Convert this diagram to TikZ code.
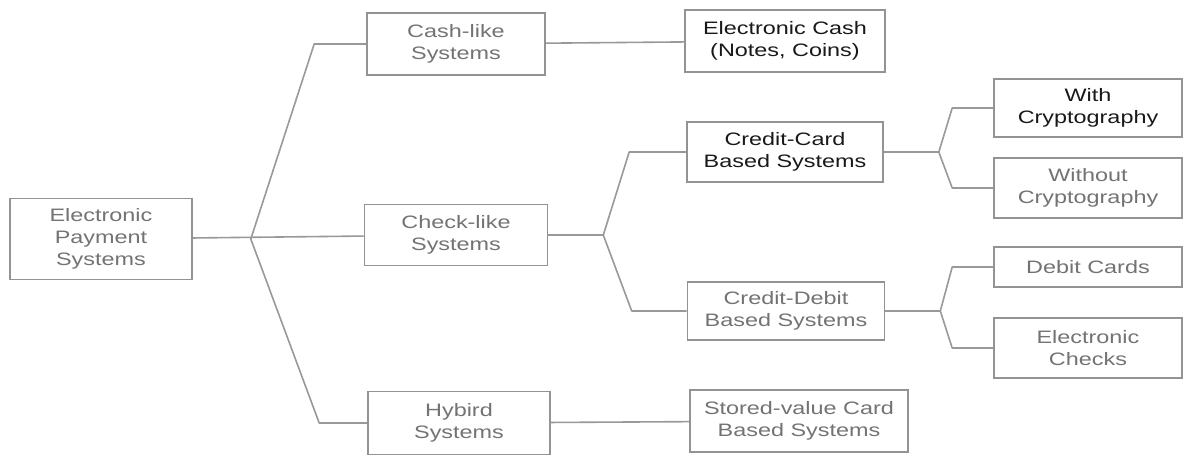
\documentclass[tikz,border=0pt]{standalone}
\usepackage{fontspec}
\setmainfont{Liberation Sans}[FakeStretch=1.3]
\usepackage{tikz}

\begin{document}
\begin{tikzpicture}[x=0.5pt, y=-0.5pt]
  \tikzset{background/.style={fill=white}}
  \tikzset{sysbox/.style={rectangle, draw=gray!85, line width=0.8pt, inner sep=0pt,
      align=center, text=gray!90!black, font=\fontsize{9}{11}\selectfont}}
  \tikzset{darkbox/.style={sysbox, text=black!90}}
  \tikzset{branch/.style={draw=gray!80, line width=0.8pt, line join=round}}

  \fill[background] (0,0) rectangle (1184,457);
  \useasboundingbox (0,0) rectangle (1184,457);

  \node[sysbox, minimum width=91pt, minimum height=40.5pt] (eps) at (101,239) {Electronic\\Payment\\Systems};

  \node[sysbox, minimum width=89pt, minimum height=31pt] (cash) at (456,44) {Cash-like\\Systems};
  \node[sysbox, minimum width=91.5pt, minimum height=30.5pt] (check) at (456,235) {Check-like\\Systems};
  \node[sysbox, minimum width=91pt, minimum height=31.5pt] (hybrid) at (459,423) {Hybird\\Systems};

  \node[darkbox, minimum width=100pt, minimum height=31pt] (ecash) at (785,41) {Electronic Cash\\(Notes, Coins)};
  \node[darkbox, minimum width=98pt, minimum height=30pt] (ccard) at (785,152) {Credit-Card\\Based Systems};
  \node[sysbox, minimum width=98.5pt, minimum height=29pt] (cdebit) at (786,311) {Credit-Debit\\Based Systems};
  \node[sysbox, minimum width=109pt, minimum height=31pt] (stored) at (799,421) {Stored-value Card\\Based Systems};

  \node[darkbox, minimum width=94pt, minimum height=29pt] (withc) at (1088,108) {With\\Cryptography};
  \node[sysbox, minimum width=94pt, minimum height=30pt] (withoutc) at (1088,188) {Without\\Cryptography};
  \node[sysbox, minimum width=94pt, minimum height=20pt] (debit) at (1088,267) {Debit Cards};
  \node[sysbox, minimum width=94pt, minimum height=30pt] (echecks) at (1088,348) {Electronic\\Checks};

  \coordinate (j1) at ([xshift=29pt]eps.east);
  \coordinate (j2) at ([xshift=27.5pt]check.east);
  \coordinate (j3) at ([xshift=27.5pt]ccard.east);
  \coordinate (j4) at ([xshift=27.5pt]cdebit.east);

  \draw[branch] (eps) -- (check);
  \draw[branch] (j1) -- ([xshift=-26pt]cash.west) -- (cash.west);
  \draw[branch] (j1) -- ([xshift=-24pt]hybrid.west) -- (hybrid.west);

  \draw[branch] (cash) -- (ecash);
  \draw[branch] (hybrid) -- (stored);

  \draw[branch] (check.east) -- (j2);
  \draw[branch] (j2) -- ([xshift=-28.5pt]ccard.west) -- (ccard.west);
  \draw[branch] (j2) -- ([xshift=-27.5pt]cdebit.west) -- (cdebit.west);

  \draw[branch] (ccard.east) -- (j3);
  \draw[branch] (j3) -- ([xshift=-20.5pt]withc.west) -- (withc.west);
  \draw[branch] (j3) -- ([xshift=-20.5pt]withoutc.west) -- (withoutc.west);

  \draw[branch] (cdebit.east) -- (j4);
  \draw[branch] (j4) -- ([xshift=-20.5pt]debit.west) -- (debit.west);
  \draw[branch] (j4) -- ([xshift=-20.5pt]echecks.west) -- (echecks.west);
\end{tikzpicture}
\end{document}
